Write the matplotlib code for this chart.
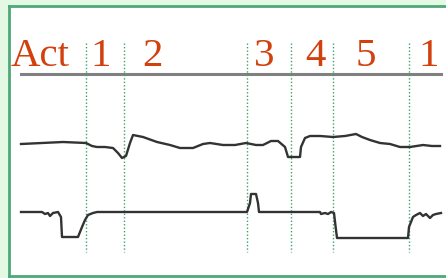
import matplotlib
matplotlib.use("Agg")
import matplotlib.pyplot as plt
from matplotlib.patches import Rectangle

# phase labels and the time of each phase boundary
labels = ["1", "2", "3", "4", "5", "1"]
label_pos = [101, 152, 264, 315, 366, 429]
boundaries = [86, 124, 247, 291, 333, 409]

# upper trace (time, level)
upper_t = [21, 63, 86, 92, 97, 105, 113, 118, 122, 126, 130, 133, 138, 143, 157,
           170, 180, 193, 203, 210, 223, 235, 246, 256, 263, 271, 278, 285, 288,
           292, 300, 301, 305, 310, 320, 333, 345, 356, 362, 370, 380, 390, 400,
           410, 423, 432, 440]
upper_v = [144, 142, 143, 146, 147, 147, 148, 153, 158, 156, 143, 135, 136, 137, 142,
           145, 148, 148, 144, 143, 145, 145, 143, 145, 145, 141, 141, 147, 157,
           157, 157, 147, 138, 136, 136, 137, 136, 134, 137, 140, 143, 144, 147,
           147, 145, 146, 146]

# lower trace (time, level)
lower_t = [21, 42, 45, 48, 50, 53, 58, 61, 62, 78, 82, 85, 88, 93, 97, 247, 250,
           251, 256, 258, 259, 320, 321, 325, 328, 331, 334, 336, 337, 408, 409,
           411, 413, 416, 420, 423, 426, 430, 433, 436, 441]
lower_v = [212, 212, 214, 213, 216, 213, 212, 217, 237, 237, 227, 220, 215, 213, 212,
           212, 203, 194, 194, 203, 212, 212, 214, 213, 214, 212, 213, 230, 238,
           238, 227, 222, 217, 215, 213, 216, 214, 218, 215, 214, 213]

fig = plt.figure(figsize=(4.46, 2.78), dpi=100)
ax = fig.add_axes([0, 0, 1, 1])
ax.set_xlim(0, 446)
ax.set_ylim(278, 0)
ax.axis("off")
fig.patch.set_facecolor("#e4f9e4")

# white panel, framed on the left, top and bottom only
ax.add_patch(Rectangle((9, 6), 460, 270, facecolor="white", edgecolor="none"))
green = "#4fa878"
ax.plot([9, 9], [6, 276], color=green, linewidth=2)
ax.plot([9, 446], [6, 6], color=green, linewidth=2)
ax.plot([9, 446], [276, 276], color=green, linewidth=2)

red = "#d2400e"
ax.text(11, 66, "Act", fontsize=29.5, family="Liberation Serif", color=red,
        va="baseline", ha="left")
for lab, xp in zip(labels, label_pos):
    ax.text(xp, 66, lab, fontsize=29.5, family="Liberation Serif", color=red,
            va="baseline", ha="center")

ax.plot([21, 441], [74, 74], color="#808080", linewidth=2.2)

for b in boundaries:
    ax.plot([b, b], [43, 252], color="#3fa06a", linewidth=1, linestyle=(0, (1, 1.5)))

ax.plot(upper_t, upper_v, color="#333333", linewidth=1.7)
ax.plot(lower_t, lower_v, color="#333333", linewidth=1.7)

fig.savefig("out.png", dpi=100, facecolor=fig.get_facecolor())
